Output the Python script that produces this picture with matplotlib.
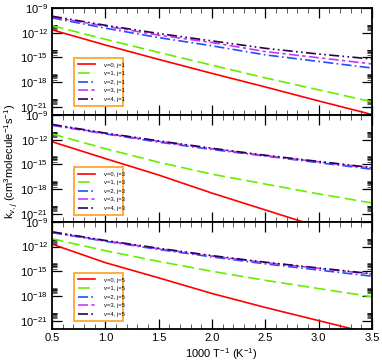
import numpy as np
import matplotlib
matplotlib.use("Agg")
import matplotlib.pyplot as plt
from matplotlib.ticker import FixedLocator, MultipleLocator, NullFormatter

plt.rcParams["font.family"] = ["Liberation Sans", "DejaVu Sans"]
plt.rcParams["mathtext.fontset"] = "custom"
plt.rcParams["mathtext.rm"] = "Liberation Sans"
plt.rcParams["mathtext.it"] = "Liberation Sans:italic"
plt.rcParams["mathtext.bf"] = "Liberation Sans:bold"

# inverse temperature, 1000/T (1/K)
invT = [0.5, 1.0, 1.5, 2.0, 2.5, 3.0, 3.5]

# log10 rate coefficients, j = 1
j1_v0 = [-11.65, -13.5, -15.25, -16.95, -18.6, -20.3, -21.95]
j1_v1 = [-11.15, -12.8, -14.4, -15.95, -17.5, -18.95, -20.4]
j1_v2 = [-10.2, -11.45, -12.6, -13.6, -14.7, -15.5, -16.3]
j1_v3 = [-10.1, -11.2, -12.3, -13.2, -14.3, -15.05, -15.8]
j1_v4 = [-10.0, -11.1, -12.1, -13.0, -13.9, -14.6, -15.2]

# j = 3
j3_v0 = [-12.25, -14.3, -16.3, -18.5, -20.55, -22.6, -24.6]
j3_v1 = [-11.3, -13.1, -14.75, -16.2, -17.4, -18.6, -19.7]
j3_v2 = [-10.25, -11.3, -12.3, -13.2, -14.0, -14.8, -15.6]
j3_v3 = [-10.2, -11.25, -12.2, -13.1, -13.95, -14.7, -15.45]
j3_v4 = [-10.15, -11.2, -12.15, -13.05, -13.9, -14.65, -15.4]

# j = 5
j5_v0 = [-11.7, -13.95, -15.8, -17.7, -19.4, -21.0, -22.6]
j5_v1 = [-11.05, -12.5, -13.8, -15.0, -16.1, -17.1, -18.1]
j5_v2 = [-10.3, -11.35, -12.35, -13.25, -14.1, -14.85, -15.6]
j5_v3 = [-10.25, -11.3, -12.25, -13.15, -13.95, -14.65, -15.35]
j5_v4 = [-10.2, -11.25, -12.2, -13.1, -13.9, -14.6, -15.3]

panels = [
    (1, [j1_v0, j1_v1, j1_v2, j1_v3, j1_v4]),
    (3, [j3_v0, j3_v1, j3_v2, j3_v3, j3_v4]),
    (5, [j5_v0, j5_v1, j5_v2, j5_v3, j5_v4]),
]
vib = [0, 1, 2, 3, 4]
yticks = [1e-21, 1e-18, 1e-15, 1e-12, 1e-9]
xticks = [0.5, 1.0, 1.5, 2.0, 2.5, 3.0, 3.5]

colors = ["#ff0000", "#66ee00", "#1f4fff", "#cc33ff", "#2a0055"]
styles = ["-", (0, (7, 3)), (0, (6, 2, 1, 2)), (0, (6, 2, 2, 2)), (0, (6, 2, 1, 2, 1, 2))]
leg_pos = [(0.06, 0.057, 0.17, 0.49), (0.06, 0.037, 0.17, 0.46), (0.06, 0.047, 0.17, 0.47)]

fig = plt.figure(figsize=(3.82, 3.63), dpi=100)
gs = fig.add_gridspec(3, 1, left=0.136, right=0.974, top=0.978, bottom=0.094, hspace=0)

minor_y = [m * t for t in yticks[:-1] for m in range(2, 10)]

for i, (j, series) in enumerate(panels):
    ax = fig.add_subplot(gs[i])
    for v, s, c, ls in zip(vib, series, colors, styles):
        ax.plot(invT, 10.0 ** np.array(s), color=c, linestyle=ls, lw=1.2,
                label=f"v={v}, j={j}")
    ax.set_yscale("log")
    ax.set_xlim(0.5, 3.5)
    ax.set_ylim(1e-22, 1e-9)
    ax.yaxis.set_major_locator(FixedLocator(yticks))
    ax.yaxis.set_minor_locator(FixedLocator(minor_y))
    ax.yaxis.set_minor_formatter(NullFormatter())
    ax.xaxis.set_major_locator(FixedLocator(xticks))
    ax.xaxis.set_minor_locator(MultipleLocator(0.1))
    ax.tick_params(which="both", direction="in", top=True, right=True, labelsize=8)
    ax.tick_params(axis="y", which="major", pad=3)
    ax.tick_params(axis="x", which="major", pad=3)
    ax.tick_params(which="major", length=7, width=0.9)
    ax.tick_params(which="minor", length=3.5, width=0.45)
    for sp in ax.spines.values():
        sp.set_linewidth(1.3)
    if i < 2:
        ax.tick_params(labelbottom=False)
    else:
        ax.set_xlabel("1000 T$^{-1}$ (K$^{-1}$)", fontsize=8, labelpad=1)
        ax.xaxis.set_label_coords(0.528, -0.165)
    leg = ax.legend(loc="lower left", bbox_to_anchor=leg_pos[i], mode="expand",
                    fontsize=4.2, frameon=True, fancybox=False, handlelength=2.9,
                    labelspacing=0.6, borderpad=0.7, handletextpad=1.5)
    fr = leg.get_frame()
    fr.set_edgecolor("#ffa633")
    fr.set_linewidth(1.3)
    fr.set_alpha(1)

fig.text(0.03, 0.554, "k$_{v, j}$ (cm$^{3}$molecule$^{-1}$s$^{-1}$)", rotation=90,
         ha="center", va="center", fontsize=8)

fig.savefig("out.png", dpi=100)
